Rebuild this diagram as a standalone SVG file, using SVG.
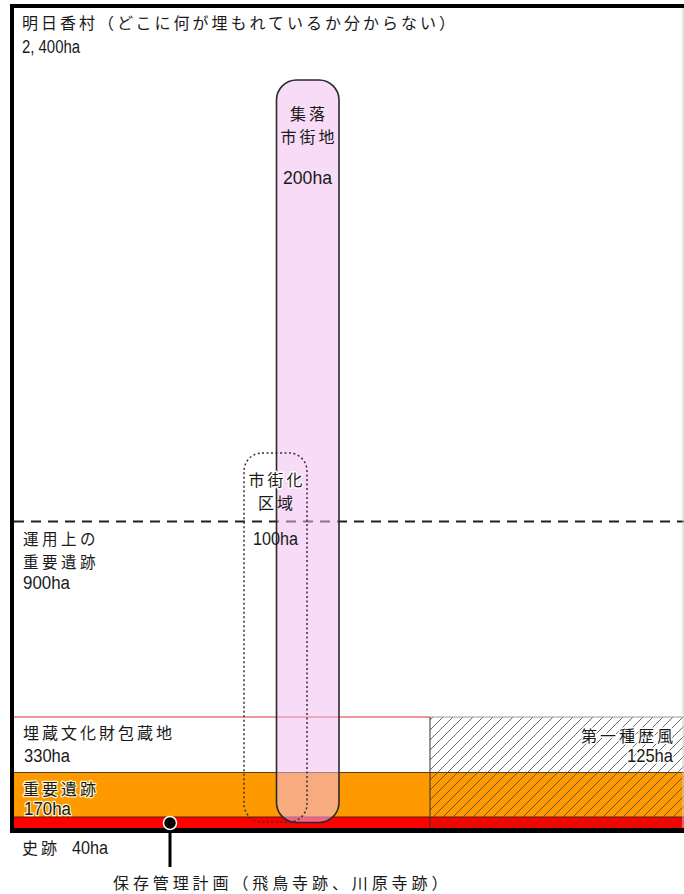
<svg xmlns="http://www.w3.org/2000/svg" width="684" height="894" viewBox="0 0 684 894">
<style>
.jp{font-family:"Noto Sans CJK JP","Noto Sans",sans-serif;font-size:16px;letter-spacing:3px;fill:#1a1a1a}
.jps{font-size:15.5px;letter-spacing:3.5px}
.en{font-family:"Liberation Sans",Arial,sans-serif;font-size:18px;fill:#1a1a1a}
.halo{paint-order:stroke;stroke:#fff;stroke-width:3px;stroke-linejoin:round}
.halo2{paint-order:stroke;stroke:#fff2c8;stroke-width:2.5px;stroke-linejoin:round}
.mid{text-anchor:middle}
.end{text-anchor:end}
</style>
<defs>
<pattern id="hatch" patternUnits="userSpaceOnUse" width="10" height="10">
<path d="M-1,11 L11,-1 M-6,6 L6,-6 M4,16 L16,4" stroke="#444" stroke-width="0.8"/>
</pattern>
</defs>
<rect width="684" height="894" fill="#fff"/>
<g id="zone-170ha-important-sites">
<rect x="14" y="772" width="670" height="45" fill="#ff9900"/>
<line x1="14" y1="772.5" x2="684" y2="772.5" stroke="#5a3a1a" stroke-width="1"/>
</g>
<g id="zone-40ha-historic-sites">
<rect x="14" y="817" width="670" height="11" fill="#ff0000"/>
<line x1="14" y1="817" x2="684" y2="817" stroke="#5a1a1a" stroke-width="1"/>
</g>
<g id="zone-125ha-historic-landscape">
<rect x="430" y="717" width="254" height="111" fill="url(#hatch)"/>
<line x1="430" y1="717" x2="430" y2="828" stroke="#333" stroke-width="1"/>
<line x1="430" y1="717" x2="684" y2="717" stroke="#999" stroke-width="1"/>
</g>
<g id="zone-330ha-buried-property">
<line x1="14" y1="717" x2="430" y2="717" stroke="#e03030" stroke-width="1"/>
</g>
<g id="zone-900ha-operational">
<line x1="14" y1="521.5" x2="684" y2="521.5" stroke="#222" stroke-width="2" stroke-dasharray="10 7"/>
</g>
<g id="zone-200ha-settlement">
<rect x="276.5" y="80" width="62.5" height="742.5" rx="20" fill="#f0bbf0" fill-opacity="0.53" stroke="#2a2a2a" stroke-width="1.6"/>
</g>
<g id="zone-100ha-urbanization">
<rect x="244" y="453" width="63" height="369" rx="18" fill="none" stroke="#333" stroke-width="1.5" stroke-dasharray="2 2.5"/>
</g>
<g id="frame">
<line x1="12" y1="4" x2="12" y2="833" stroke="#000" stroke-width="4"/>
<line x1="10" y1="6" x2="684" y2="6" stroke="#000" stroke-width="4"/>
<line x1="10" y1="830.5" x2="684" y2="830.5" stroke="#000" stroke-width="5"/>
<line x1="683" y1="8" x2="683" y2="828" stroke="#ccc" stroke-width="1"/>
</g>
<g id="labels">
<text class="jp" x="22" y="28.5">明日香村（どこに何が埋もれているか分からない）</text>
<text class="en" x="22" y="52.5" textLength="58" lengthAdjust="spacingAndGlyphs">2, 400ha</text>
<text class="jp mid" x="309" y="119.5">集落</text>
<text class="jp mid" x="309" y="142.5">市街地</text>
<text class="en" x="283" y="183.5" textLength="49" lengthAdjust="spacingAndGlyphs">200ha</text>
<text class="jp mid halo" x="277" y="485.5">市街化</text>
<text class="jp mid" x="277" y="508.5">区域</text>
<text class="en" x="253" y="544.5" textLength="45" lengthAdjust="spacingAndGlyphs">100ha</text>
<text class="jp jps" x="23" y="545">運用上の</text>
<text class="jp jps" x="23" y="567.5">重要遺跡</text>
<text class="en" x="23" y="589" textLength="47" lengthAdjust="spacingAndGlyphs">900ha</text>
<text class="jp" x="23" y="738.5">埋蔵文化財包蔵地</text>
<text class="en" x="24" y="761.5" textLength="46" lengthAdjust="spacingAndGlyphs">330ha</text>
<text class="jp end halo" x="676" y="741.5">第一種歴風</text>
<text class="en halo" x="627" y="761.5" textLength="46" lengthAdjust="spacingAndGlyphs">125ha</text>
<text class="jp halo2" x="23" y="794.5">重要遺跡</text>
<text class="en halo2" x="24" y="814.5" textLength="47" lengthAdjust="spacingAndGlyphs">170ha</text>
<text class="jp" x="22" y="853.5">史跡</text>
<text class="en" x="72" y="853.5" textLength="36" lengthAdjust="spacingAndGlyphs">40ha</text>
<text class="jp" x="113" y="888.5" style="letter-spacing:3.9px">保存管理計画（飛鳥寺跡、川原寺跡）</text>
</g>
<g id="connectors">
<line x1="170" y1="823" x2="170" y2="867" stroke="#000" stroke-width="3"/>
<circle cx="170" cy="823" r="6.5" fill="#000" stroke="#fff" stroke-width="1.5"/>
</g>
</svg>
